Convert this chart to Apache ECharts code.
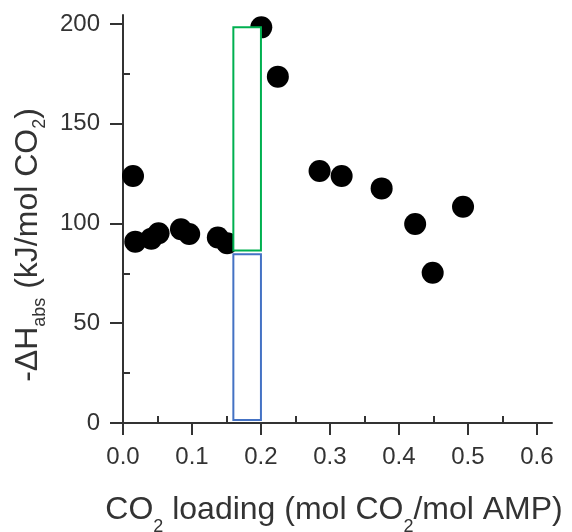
<!DOCTYPE html>
<html>
<head>
<meta charset="utf-8">
<script src="https://cdn.jsdelivr.net/npm/echarts@6/dist/echarts.min.js"></script>
<style>html,body{margin:0;padding:0;background:#fff;}#c{width:572px;height:532px;}</style>
</head>
<body>
<div id="c"></div>
<script>
// Data
const loading = [0.0145, 0.0178, 0.041, 0.0516, 0.084, 0.096, 0.1375, 0.151, 0.2005, 0.2245, 0.285, 0.317, 0.375, 0.4236, 0.449, 0.493];
const dH = [123.8, 90.9, 92.4, 95.1, 97.1, 94.7, 93.0, 90.1, 198.3, 173.6, 126.3, 123.8, 117.6, 99.7, 75.3, 108.4];
// rectangles: [xStart, yLow, xEnd, yHigh]
const rectUpper = [0.160, 86.4, 0.200, 198.3];
const rectLower = [0.160, 1.5, 0.200, 84.6];
const xTickLabels = [0, 0.1, 0.2, 0.3, 0.4, 0.5, 0.6];
const xMinorTicks = [0.05, 0.15, 0.25, 0.35, 0.45, 0.55];
const yTickLabels = [0, 50, 100, 150, 200];
const yMinorTicks = [25, 75, 125, 175];

const rectColors = ['#00B050', '#4472C4'];
const FONT = 'Liberation Sans, Arial, sans-serif';
const AX = '#333333';

const chart = echarts.init(document.getElementById('c'));
const mainAxis = (isX, labels, max) => ({
  type: 'value', min: 0, max: max,
  axisLine: { show: true, onZero: false, lineStyle: { color: AX, width: 2 } },
  axisTick: { show: true, customValues: labels, length: isX ? 12 : 13, lineStyle: { color: AX, width: 2 } },
  axisLabel: { customValues: labels, margin: isX ? 22 : 23, fontSize: 24, fontFamily: FONT, color: AX,
    formatter: v => isX ? v.toFixed(1) : String(v) },
  splitLine: { show: false }
});
const minorAxis = (minor, max) => ({
  type: 'value', min: 0, max: max,
  axisLine: { show: false },
  axisTick: { show: true, customValues: minor, length: 7, lineStyle: { color: AX, width: 2 } },
  axisLabel: { show: false },
  splitLine: { show: false }
});

const xMax = 0.622, yMax = 204.5;
const x0 = mainAxis(true, xTickLabels, xMax);
x0.name = '{n|CO}{s|2}{n| loading (mol CO}{s|2}{n|/mol AMP)}';
x0.nameLocation = 'middle';
x0.nameGap = 61;
x0.nameTextStyle = { fontSize: 32, fontFamily: FONT, color: AX, padding: [0, 7, 0, 0],
  rich: { n: { fontSize: 32, fontFamily: FONT, color: AX }, s: { fontSize: 18, fontFamily: FONT, color: AX, padding: [34, 0, 0, 0] } } };
const y0 = mainAxis(false, yTickLabels, yMax);
y0.name = '{n|-ΔH}{s|abs}{n| (kJ/mol CO}{s|2}{n|)}';
y0.nameLocation = 'middle';
y0.nameGap = 72;
y0.nameRotate = 90;
y0.nameTextStyle = { fontSize: 32, fontFamily: FONT, color: AX, padding: [0, 52, 0, 0],
  rich: { n: { fontSize: 32, fontFamily: FONT, color: AX }, s: { fontSize: 18, fontFamily: FONT, color: AX, padding: [23, 0, 0, 0] } } };

chart.setOption({
  animation: false,
  backgroundColor: '#fff',
  grid: { left: 123, top: 15, width: 429, height: 408, containLabel: false, outerBoundsMode: 'none' },
  xAxis: [x0, minorAxis(xMinorTicks, xMax)],
  yAxis: [y0, minorAxis(yMinorTicks, yMax)],
  series: [
    { type: 'scatter', z: 2, symbol: 'circle', symbolSize: 22, itemStyle: { color: '#000', opacity: 1 },
      data: loading.map((x, i) => [x, dH[i]]) },
    { type: 'custom', z: 5, clip: false,
      data: [rectUpper, rectLower],
      renderItem: (params, api) => {
        const p0 = api.coord([api.value(0), api.value(3)]);
        const p1 = api.coord([api.value(2), api.value(1)]);
        return { type: 'rect', shape: { x: p0[0], y: p0[1], width: p1[0] - p0[0], height: p1[1] - p0[1] },
          style: { fill: '#fff', stroke: rectColors[params.dataIndex], lineWidth: 2 } };
      } }
  ]
});
</script>
</body>
</html>
